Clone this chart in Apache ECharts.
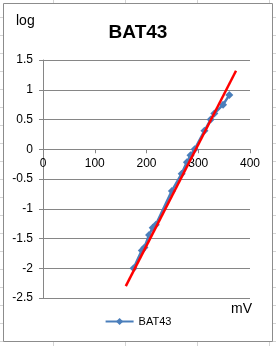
<!DOCTYPE html>
<html>
<head>
<meta charset="utf-8">
<script src="https://cdn.jsdelivr.net/npm/echarts@6/dist/echarts.min.js"></script>
<style>
  html, body { margin: 0; padding: 0; background: #fff; }
  #main { width: 276px; height: 346px; }
</style>
</head>
<body>
<div id="main"></div>
<script>
// 测量点 (mV, log)
var mvData = [175, 191, 196, 205, 212, 218, 249, 268, 278, 285, 293, 312, 324, 331, 348, 360];
var logData = [-2.0, -1.7, -1.65, -1.44, -1.32, -1.27, -0.7, -0.41, -0.22, -0.1, 0.0, 0.31, 0.5, 0.6, 0.75, 0.91];
// 趋势线两端
var trendMv = [160, 373];
var trendLog = [-2.3, 1.32];
var seriesName = 'BAT43';

var chart = echarts.init(document.getElementById('main'));
var font = '"Liberation Sans", Arial, sans-serif';

// 背景表格线
var sheetLines = [];
for (var x = 53; x < 276; x += 72) {
  sheetLines.push({ type: 'line', shape: { x1: x + 0.5, y1: 0, x2: x + 0.5, y2: 346 }, style: { stroke: '#d4d4d4', lineWidth: 1 }, z: -10 });
}
for (var y = 17; y < 346; y += 18) {
  sheetLines.push({ type: 'line', shape: { x1: 0, y1: y + 0.5, x2: 276, y2: y + 0.5 }, style: { stroke: '#d4d4d4', lineWidth: 1 }, z: -10 });
}

// 网格尺寸, x轴放在 y=0 处
var gridTop = 60, gridBottom = 48;
var gridH = 346 - gridTop - gridBottom;
var yMin = -2.5, yMax = 1.5;
var zeroOffset = -gridH * (0 - yMin) / (yMax - yMin);

var option = {
  backgroundColor: '#fff',
  animation: false,
  graphic: sheetLines.concat([
    { type: 'rect', shape: { x: 3.5, y: 3.5, width: 269, height: 338 }, style: { fill: '#fff', stroke: '#8c8c8c', lineWidth: 1 }, z: -5 },
    { type: 'text', left: 16, top: 14, style: { text: 'log', font: '14px ' + font, fill: '#000' } },
    { type: 'text', left: 231, top: 302, style: { text: 'mV', font: '14px ' + font, fill: '#000' } }
  ]),
  title: {
    text: 'BAT43',
    left: 'center',
    top: 18,
    textStyle: { fontFamily: font, fontSize: 19, fontWeight: 'bold', color: '#000' }
  },
  legend: {
    bottom: 14,
    left: 'center',
    itemWidth: 28,
    itemHeight: 9,
    itemGap: 4,
    data: [seriesName],
    textStyle: { fontFamily: font, fontSize: 11, color: '#000' }
  },
  grid: { left: 43, right: 26, top: gridTop, bottom: gridBottom },
  xAxis: {
    type: 'value',
    min: 0, max: 400, interval: 100,
    position: 'bottom',
    offset: zeroOffset,
    axisLine: { onZero: false, lineStyle: { color: '#868686' } },
    axisTick: { show: true, length: 4, lineStyle: { color: '#868686' } },
    axisLabel: { margin: 8, fontFamily: font, fontSize: 12, color: '#000' },
    splitLine: { show: false }
  },
  yAxis: {
    type: 'value',
    min: yMin, max: yMax, interval: 0.5,
    axisLine: { show: true, lineStyle: { color: '#868686' } },
    axisTick: { show: true, length: 4, lineStyle: { color: '#868686' } },
    axisLabel: { margin: 10, fontFamily: font, fontSize: 12, color: '#000' },
    splitLine: { show: true, lineStyle: { color: '#868686', width: 1 } }
  },
  series: [
    {
      name: seriesName,
      type: 'line',
      data: mvData.map(function (v, i) { return [v, logData[i]]; }),
      symbol: 'diamond',
      symbolSize: 8,
      showAllSymbol: true,
      itemStyle: { color: '#4a7ebb' },
      lineStyle: { color: '#4a7ebb', width: 2.5 },
      z: 2
    },
    {
      name: 'trend',
      type: 'line',
      data: trendMv.map(function (v, i) { return [v, trendLog[i]]; }),
      symbol: 'none',
      lineStyle: { color: '#ff0000', width: 2.5 },
      z: 3
    }
  ]
};
chart.setOption(option);
</script>
</body>
</html>
